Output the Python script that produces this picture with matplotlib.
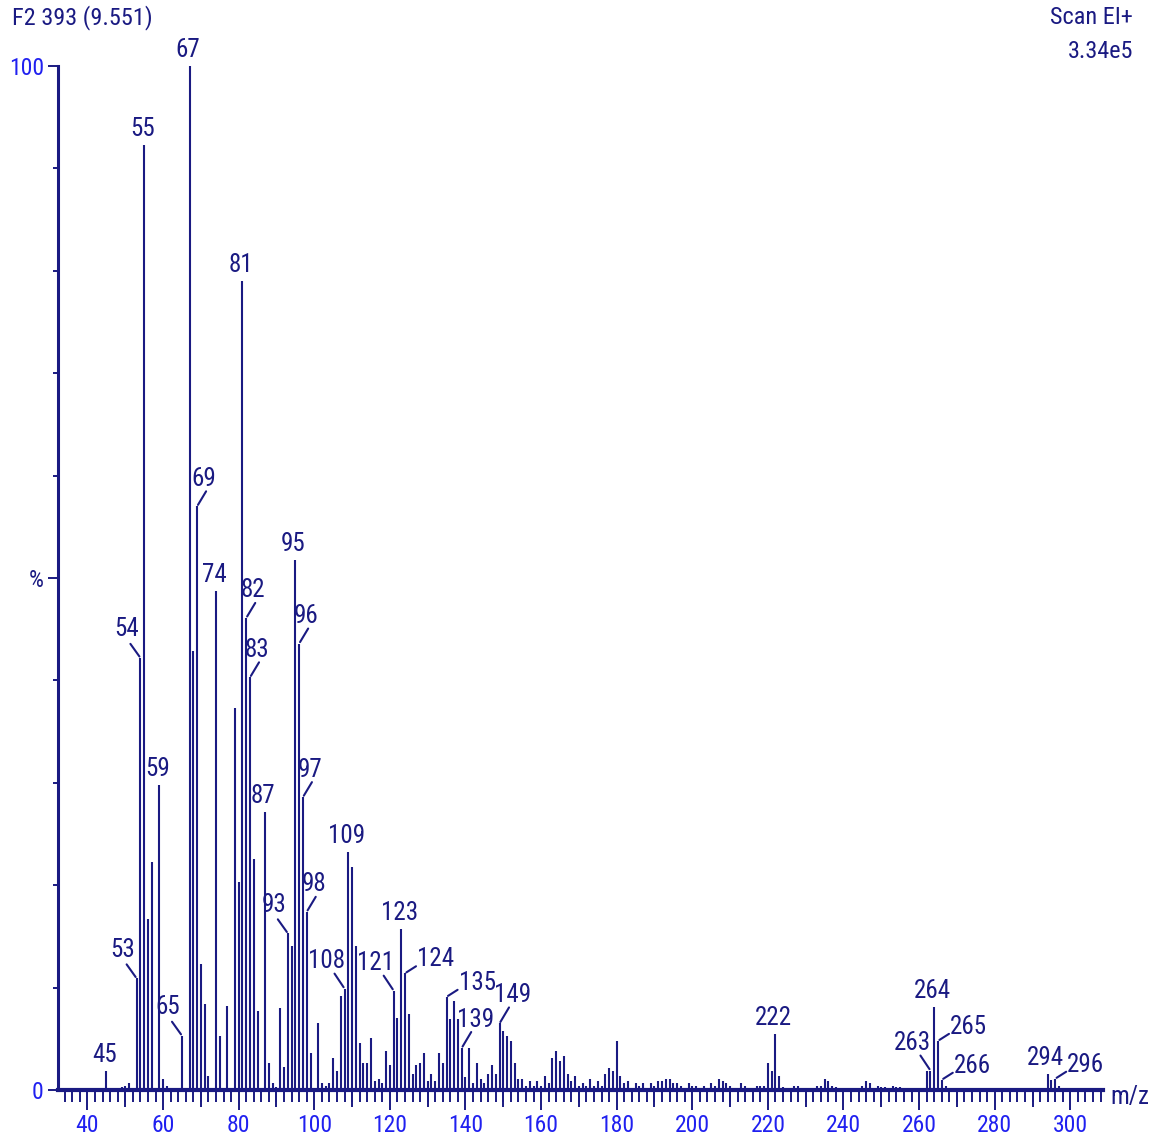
import matplotlib
matplotlib.use("Agg")
import matplotlib.pyplot as plt
from matplotlib import font_manager as fm
from matplotlib.ticker import MultipleLocator, FixedLocator

# ---------------- data ----------------
mz = [45, 46, 49, 50, 51, 53, 54, 55, 56, 57, 59, 60, 61, 62, 63, 65,
      67, 68, 69, 70, 71, 72, 74, 75, 77, 79, 80, 81, 82, 83, 84, 85,
      87, 88, 89, 90, 91, 92, 93, 94, 95, 96, 97, 98, 99, 101, 102, 103,
      104, 105, 106, 107, 108, 109, 110, 111, 112, 113, 114, 115, 116,
      117, 118, 119, 120, 121, 122, 123, 124, 125, 126, 127, 128, 129,
      130, 131, 132, 133, 134, 135, 136, 137, 138, 139, 140, 141, 142,
      143, 144, 145, 146, 147, 148, 149, 150, 151, 152, 153, 154, 155,
      156, 157, 158, 159, 160, 161, 162, 163, 164, 165, 166, 167, 168,
      169, 170, 171, 172, 173, 174, 175, 176, 177, 178, 179, 180, 181,
      182, 183, 184, 185, 186, 187, 188, 189, 190, 191, 192, 193, 194,
      195, 196, 197, 199, 200, 201, 202, 203, 204, 205, 206, 207, 208,
      209, 210, 211, 213, 214, 215, 217, 218, 219, 220, 221, 222, 223,
      224, 225, 227, 228, 229, 231, 233, 234, 235, 236, 237, 238, 239,
      241, 245, 246, 247, 249, 250, 251, 253, 254, 255, 261, 262, 263,
      264, 265, 266, 267, 275, 278, 279, 292, 294, 295, 296, 297]

intensity = [1.9, 0.2, 0.25, 0.4, 0.65, 10.9, 42.2, 92.3, 16.7, 22.3, 29.8,
             1.1, 0.4, 0.2, 0.2, 5.3,
             100.0, 42.9, 57.0, 12.3, 8.4, 1.4, 48.7, 5.3, 8.2, 37.3, 20.3,
             79.0, 46.1, 40.3, 22.6, 7.7,
             27.1, 2.6, 0.65, 0.25, 8.0, 2.2, 15.3, 14.1, 51.8, 43.6, 28.6,
             17.4, 3.6, 6.5, 0.65, 0.4,
             0.65, 3.1, 1.9, 9.2, 9.9, 23.2, 21.8, 14.1, 4.6, 2.6, 2.6, 5.1,
             0.9,
             1.1, 0.65, 3.8, 2.4, 9.7, 7.0, 15.7, 11.4, 7.4, 1.6, 2.4, 2.6,
             3.6,
             0.9, 1.6, 0.9, 3.6, 2.6, 9.1, 6.9, 8.7, 6.9, 4.1, 1.3, 4.1, 0.65,
             2.6, 1.1, 0.65, 1.6, 2.4, 1.6, 6.5, 5.8, 5.3, 4.8, 2.6, 1.1, 1.1,
             0.4, 0.9, 0.4, 0.9, 0.4, 1.4, 0.65, 3.1, 3.8, 2.8, 3.3, 1.6, 0.9,
             1.4, 0.4, 0.65, 0.4, 1.1, 0.4, 0.9, 0.4, 1.6, 2.1, 1.9, 4.8, 1.4,
             0.65, 0.9, 0.2, 0.65, 0.4, 0.65, 0.2, 0.65, 0.4, 0.9, 0.9, 1.1,
             1.1,
             0.65, 0.65, 0.4, 0.65, 0.4, 0.4, 0.2, 0.4, 0.2, 0.65, 0.4, 1.1,
             0.9,
             0.65, 0.4, 0.2, 0.65, 0.4, 0.2, 0.4, 0.4, 0.4, 2.6, 1.9, 5.5, 1.4,
             0.3, 0.2, 0.4, 0.4, 0.2, 0.2, 0.4, 0.4, 1.1, 0.9, 0.4, 0.3, 0.2,
             0.2, 0.4, 0.9, 0.7, 0.4, 0.3, 0.3, 0.4, 0.3, 0.3, 0.2, 1.9, 1.9,
             8.1, 4.8, 1.0, 0.4, 0.2, 0.2, 0.2, 0.2, 1.6, 1.0, 1.1, 0.4]

labelled_mz = [45, 53, 54, 55, 59, 65, 67, 69, 74, 81, 82, 83, 87, 93, 95,
               96, 97, 98, 108, 109, 121, 123, 124, 135, 139, 149, 222, 263,
               264, 265, 266, 294, 296]

x_major = list(range(40, 301, 20))
x_mid = list(range(50, 300, 20))
y_major = [0, 50, 100]
y_major_labels = ["0", "%", "100"]

title_left = "F2 393 (9.551)"
title_right = ["Scan EI+", "3.34e5"]
x_title = "m/z"

# ---------------- style ----------------
def narrow_font():
    """Return FontProperties for the narrowest Arial-like face available."""
    names = {f.name for f in fm.fontManager.ttflist}
    for n in ["Liberation Sans Narrow", "Arial Narrow", "Roboto Condensed",
              "Open Sans Condensed", "Noto Sans Condensed", "Lato Condensed"]:
        if n in names:
            return fm.FontProperties(family=n)
    for f in fm.fontManager.ttflist:
        if f.name == "DejaVu Sans" and str(f.stretch) in ("condensed",
                                                          "semi-condensed"):
            return fm.FontProperties(fname=f.fname)
    for f in fm.fontManager.ttflist:
        if ("Condensed" in f.name or "Narrow" in f.name) and f.style == "normal" \
                and f.weight in (400, "normal", "regular"):
            return fm.FontProperties(fname=f.fname)
    return fm.FontProperties(family="Liberation Sans")

FP = narrow_font()

def font(size):
    p = FP.copy()
    p.set_size(size)
    return p

NAVY = "#1a1a82"
BLUE = "#2020f0"
W, H = 1152, 1138
PX = 0.72  # points per pixel at 100 dpi

fig = plt.figure(figsize=(W / 100, H / 100), dpi=100)
ax = fig.add_axes([58 / W, (H - 1090) / H, (1103 - 58) / W, (1090 - 66) / H])
ax.set_xlim(32.2, 308.65)
ax.set_ylim(0, 100)

ax.vlines(mz, 0, intensity, colors=NAVY, linewidth=1.5, clip_on=False, zorder=3)

for s in ("top", "right"):
    ax.spines[s].set_visible(False)
ax.spines["bottom"].set_linewidth(3.0)
ax.spines["left"].set_linewidth(2.2)
ax.spines["bottom"].set_color(NAVY)
ax.spines["left"].set_color(NAVY)

# x ticks: long every 20, medium every 10, short every 2
ax.xaxis.set_major_locator(FixedLocator(x_major))
ax.xaxis.set_minor_locator(FixedLocator(list(range(34, 309, 2))))
ax.set_xticklabels([str(v) for v in x_major])
ax.tick_params(axis="x", which="major", length=14.5, width=1.4, color=NAVY,
               labelcolor=BLUE, pad=2.5)
ax.tick_params(axis="x", which="minor", length=8.6, width=1.4, color=NAVY)
sec = ax.secondary_xaxis("bottom")
sec.set_xticks(x_mid)
sec.set_xticklabels([])
sec.tick_params(length=12, width=1.4, color=NAVY)
sec.spines["bottom"].set_visible(False)

# y ticks
ax.yaxis.set_major_locator(FixedLocator(y_major))
ax.yaxis.set_minor_locator(MultipleLocator(10))
ax.set_yticklabels(y_major_labels)
ax.tick_params(axis="y", which="major", length=7.2, width=1.4, color=NAVY,
               labelcolor=BLUE, pad=3)
ax.tick_params(axis="y", which="minor", length=3.6, width=1.4, color=NAVY)
for t in ax.get_xticklabels() + ax.get_yticklabels():
    t.set_fontproperties(font(17))
    if t.get_text() == "%":
        t.set_color(NAVY)

# peak labels: text offset (px) from the peak top and optional leader line
place = {
    "a": ((-2, 9), None),
    "ul2": ((-14, 21.5), (-10, 14)),
    "ul3": ((-18, 21), (-10, 15)),
    "ur2": ((7, 20.5), (9, 15)),
    "ur3": ((13.5, 21), (9.5, 16)),
    "r": ((12, 7), (11, 7)),
}
kind = {53: "ul2", 54: "ul2", 65: "ul2", 93: "ul2",
        108: "ul3", 121: "ul3", 263: "ul3",
        69: "ur2", 82: "ur2", 83: "ur2", 96: "ur2", 97: "ur2", 98: "ur2",
        139: "ur3", 149: "ur3",
        124: "r", 135: "r", 265: "r", 266: "r", 296: "r"}
lookup = dict(zip(mz, intensity))
for m in labelled_mz:
    h = lookup[m]
    k = kind.get(m, "a")
    (tx, ty), lead = place[k]
    ax.annotate(str(m), xy=(m, h), xytext=(tx * PX, ty * PX),
                textcoords="offset points",
                ha="left" if k == "r" else "center", va="baseline",
                fontproperties=font(18), color=NAVY, annotation_clip=False)
    if lead is not None:
        ax.annotate("", xy=(m, h), xytext=(lead[0] * PX, lead[1] * PX),
                    textcoords="offset points", annotation_clip=False,
                    arrowprops=dict(arrowstyle="-", color=NAVY, lw=1.5,
                                    shrinkA=0, shrinkB=1.2))

fig.text(12 / W, 1 - 18 / H, title_left, ha="left", va="center",
         fontproperties=font(17.5), color=NAVY)
fig.text(1133 / W, 1 - 18 / H, title_right[0], ha="right", va="center",
         fontproperties=font(17.5), color=NAVY)
fig.text(1133 / W, 1 - 52 / H, title_right[1], ha="right", va="center",
         fontproperties=font(17.5), color=NAVY)
fig.text(1130 / W, 1 - 1097 / H, x_title, ha="center", va="center",
         fontproperties=font(18), color=NAVY)

fig.savefig("out.png", dpi=100, facecolor="white")
